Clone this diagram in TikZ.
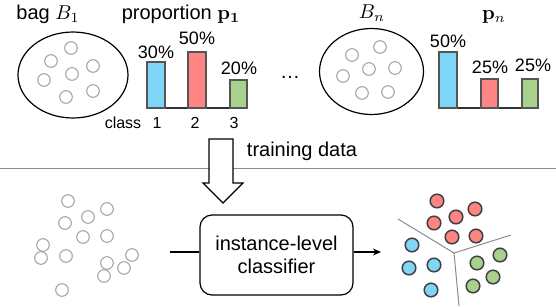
\documentclass[tikz,border=0pt]{standalone}
\usepackage[no-math]{fontspec}
\setmainfont{Liberation Sans}
\usetikzlibrary{arrows.meta}

\definecolor{barblue}{HTML}{80D6F7}
\definecolor{barred}{HTML}{FF8585}
\definecolor{bargreen}{HTML}{A9D18E}
\definecolor{edgegray}{HTML}{555555}

\tikzset{
  inst/.style={draw=black!35, line width=0.55pt},
  dot/.style={draw=black!75, line width=0.75pt},
  bar/.style={draw=edgegray, line width=0.9pt},
  axis/.style={draw=black!80, line width=0.8pt},
  pct/.style={anchor=base, font=\fontsize{9}{10}\selectfont},
  lbl/.style={anchor=base, font=\fontsize{10}{12}\selectfont},
  cls/.style={anchor=base, font=\fontsize{8}{9}\selectfont},
}

\begin{document}
\begin{tikzpicture}[x=0.5pt, y=-0.5pt]
    \useasboundingbox (0,0) rectangle (556,306);

    % top: bags and their proportions
    \node[lbl] (bag1) at (48,19) {bag $B_1$};
    \node[lbl] (prop1) at (181,19) {proportion $\mathbf{p}_{\mathbf{1}}$};
    \node[lbl] (bagn) at (372,18) {$B_n$};
    \node[lbl] (propn) at (494,19) {$\mathbf{p}_n$};
    \node[lbl] (dots) at (290,78) {\ldots};

    \draw[black, line width=0.6pt] (73,75) ellipse (55 and 43);
    \draw[inst] (71,48) circle (6.3);
    \draw[inst] (51,61) circle (6.3);
    \draw[inst] (93,66) circle (6.3);
    \draw[inst] (72,74) circle (6.3);
    \draw[inst] (44,80) circle (6.3);
    \draw[inst] (93,91) circle (6.3);
    \draw[inst] (66,97) circle (6.3);

    \draw[black, line width=0.6pt] (371.5,71.5) ellipse (52 and 43);
    \draw[inst] (380,47) circle (6.3);
    \draw[inst] (352,55) circle (6.3);
    \draw[inst] (395,68) circle (6.3);
    \draw[inst] (369,69) circle (6.3);
    \draw[inst] (343,76) circle (6.3);
    \draw[inst] (362,93) circle (6.3);
    \draw[inst] (388,92) circle (6.3);

    \draw[axis] (147,108) -- (247,108);
    \filldraw[bar, fill=barblue] (147,108) rectangle (165,62);
    \filldraw[bar, fill=barred] (188,108) rectangle (206,52);
    \filldraw[bar, fill=bargreen] (230,108) rectangle (247,80);
    \node[pct] (p11) at (156,58) {30\%};
    \node[pct] (p12) at (197,44) {50\%};
    \node[pct] (p13) at (239,74) {20\%};
    \node[cls] (clsname) at (123,128) {class};
    \node[cls] (c1) at (157,128) {1};
    \node[cls] (c2) at (195,128) {2};
    \node[cls] (c3) at (234,128) {3};

    \draw[axis] (439,108) -- (538,108);
    \filldraw[bar, fill=barblue] (439,108) rectangle (457,52);
    \filldraw[bar, fill=barred] (481,108) rectangle (498,79);
    \filldraw[bar, fill=bargreen] (522,108) rectangle (538,79);
    \node[pct] (pn1) at (448,47) {50\%};
    \node[pct] (pn2) at (490,73) {25\%};
    \node[pct] (pn3) at (533,71) {25\%};

    % separator and hollow arrow
    \draw[black!45, line width=0.5pt] (0,168) -- (556,168);
    \filldraw[fill=white, draw=black, line width=0.55pt] (209,139) -- (233,139) -- (233,183) -- (243,183)
        -- (223,203) -- (203,183) -- (209,183) -- cycle;
    \node[lbl] (train) at (302,156) {training data};

    % bottom: classifier
    \node[draw, rounded corners=6pt, line width=0.6pt, minimum width=76.5pt, minimum height=40pt,
          align=center, font=\fontsize{10}{11.5}\selectfont] (clf) at (276.5,255) {instance-level\\classifier};
    \coordinate (ain) at (170,252);
    \coordinate (aout) at (381,252);
    \draw[black, line width=0.6pt] (ain) -- (ain -| clf.west);
    \draw[black, line width=0.6pt, -{Stealth[length=4pt, width=3.5pt]}] (aout -| clf.east) -- (aout);

    \draw[inst] (68,201) circle (6.3);
    \draw[inst] (107,209) circle (6.3);
    \draw[inst] (88,217) circle (6.3);
    \draw[inst] (65,223) circle (6.3);
    \draw[inst] (83,237) circle (6.3);
    \draw[inst] (107,236) circle (6.3);
    \draw[inst] (43,245) circle (6.3);
    \draw[inst] (132,255) circle (6.3);
    \draw[inst] (41,258) circle (6.3);
    \draw[inst] (66,256) circle (6.3);
    \draw[inst] (107,263) circle (6.3);
    \draw[inst] (124,268) circle (6.3);
    \draw[inst] (104,276) circle (6.3);
    \draw[inst] (62,290) circle (6.3);

    % classified instances
    \draw[black!45, line width=0.5pt] (398,219) -- (454,253) -- (511,235);
    \draw[black!45, line width=0.5pt] (454,253) -- (459,306);
    \filldraw[dot, fill=barred] (437,201) circle (6.8);
    \filldraw[dot, fill=barred] (475,209) circle (6.8);
    \filldraw[dot, fill=barred] (456,217) circle (6.8);
    \filldraw[dot, fill=barred] (434,223) circle (6.8);
    \filldraw[dot, fill=barred] (452,237) circle (6.8);
    \filldraw[dot, fill=barred] (476,236) circle (6.8);
    \filldraw[dot, fill=barblue] (412,245) circle (6.8);
    \filldraw[dot, fill=barblue] (434,265) circle (6.8);
    \filldraw[dot, fill=barblue] (409,268) circle (6.8);
    \filldraw[dot, fill=barblue] (431,290) circle (6.8);
    \filldraw[dot, fill=bargreen] (500,255) circle (6.8);
    \filldraw[dot, fill=bargreen] (477,263) circle (6.8);
    \filldraw[dot, fill=bargreen] (493,277) circle (6.8);
    \filldraw[dot, fill=bargreen] (473,286) circle (6.8);
\end{tikzpicture}
\end{document}
